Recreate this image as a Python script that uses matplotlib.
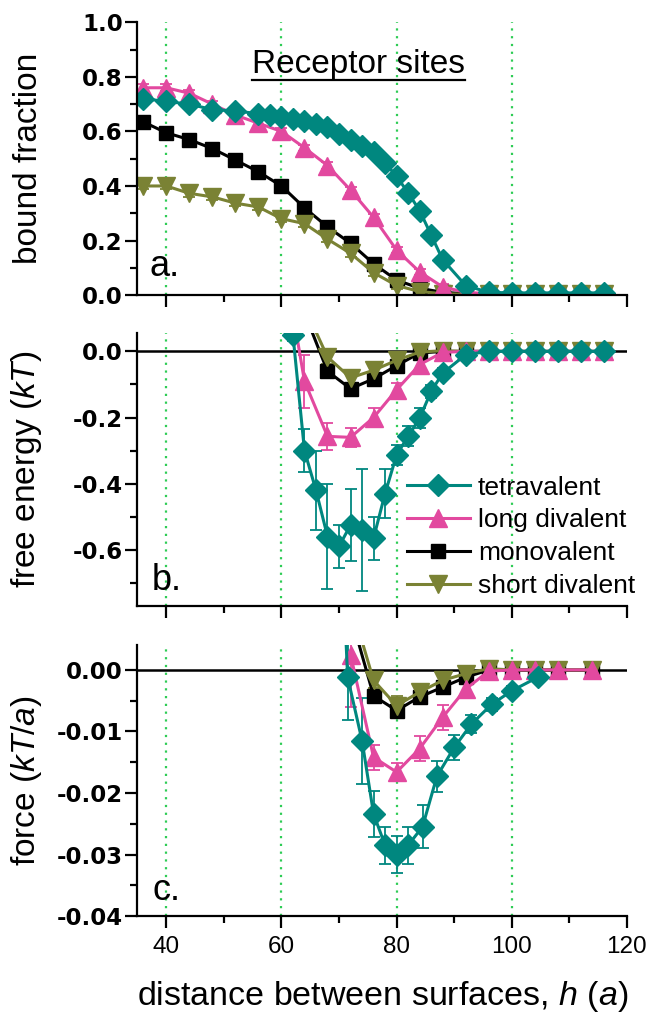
import numpy as np
import matplotlib
matplotlib.use("Agg")
import matplotlib.pyplot as plt
from matplotlib.ticker import MultipleLocator
from matplotlib.lines import Line2D

plt.rcParams['font.family'] = ['Liberation Sans', 'DejaVu Sans']
plt.rcParams['mathtext.fontset'] = 'custom'
plt.rcParams['mathtext.rm'] = 'Liberation Sans'
plt.rcParams['mathtext.it'] = 'Liberation Sans:italic'

# ---------------------------------------------------------------- data
# panel a: bound fraction
xa_tet = [36, 40, 44, 48, 52, 56, 58, 60, 62, 64, 66, 68, 70, 72, 74, 76, 78, 80,
          82, 84, 86, 88, 92, 96, 100, 104, 108, 112, 116]
ya_tet = [0.72, 0.71, 0.70, 0.68, 0.675, 0.665, 0.66, 0.653, 0.645, 0.637, 0.628,
          0.615, 0.59, 0.57, 0.548, 0.525, 0.485, 0.435, 0.375, 0.31, 0.22, 0.13,
          0.035, 0.01, 0.008, 0.008, 0.008, 0.008, 0.008]
xa_div = [36, 40, 44, 48, 52, 56, 60, 64, 68, 72, 76, 80, 84, 88, 92, 96, 100, 104,
          108, 112, 116]
ya_long = [0.76, 0.76, 0.74, 0.70, 0.66, 0.63, 0.60, 0.54, 0.475, 0.385, 0.285,
           0.165, 0.085, 0.03, 0.01, 0.005, 0.003, 0.003, 0.003, 0.003, 0.003]
ya_mono = [0.635, 0.595, 0.57, 0.537, 0.495, 0.452, 0.40, 0.32, 0.25, 0.19, 0.115,
           0.055, 0.025, 0.01, 0.005, 0.003, 0.003, 0.003, 0.003, 0.003, 0.003]
ya_short = [0.40, 0.40, 0.373, 0.36, 0.337, 0.323, 0.28, 0.262, 0.205, 0.153, 0.082,
            0.035, 0.013, 0.005, 0.003, 0.003, 0.003, 0.003, 0.003, 0.003, 0.003]

# panel b: free energy (kT)
xb_tet = [62, 64, 66, 68, 70, 72, 74, 76, 78, 80, 82, 84, 86, 88, 92, 96, 100, 104,
          108, 112, 116]
yb_tet = [0.05, -0.30, -0.42, -0.56, -0.59, -0.525, -0.54, -0.565, -0.43, -0.313,
          -0.257, -0.202, -0.121, -0.066, -0.01, 0.0, 0.0, 0.0, 0.0, 0.0, 0.0]
eb_tet = [0.02, 0.065, 0.12, 0.16, 0.065, 0.11, 0.185, 0.065, 0.075, 0.03, 0.03,
          0.03, 0.02, 0.015, 0.008, 0.005, 0.005, 0.005, 0.005, 0.005, 0.005]
xb_long = [60, 64, 68, 72, 76, 80, 84, 88, 92, 96, 100, 104, 108, 112, 116]
yb_long = [0.32, -0.09, -0.257, -0.26, -0.2, -0.116, -0.04, -0.003, 0.0, 0.0, 0.0,
           0.0, 0.0, 0.0, 0.0]
eb_long = [0.02, 0.08, 0.04, 0.028, 0.03, 0.02, 0.02, 0.01, 0.005, 0.005, 0.005,
           0.005, 0.005, 0.005, 0.005]
xb_mono = [64, 68, 72, 76, 80, 84, 88, 92, 96, 100, 104, 108, 112, 116]
yb_mono = [0.117, -0.06, -0.113, -0.083, -0.043, -0.005, 0.0, 0.0, 0.0, 0.0, 0.0,
           0.0, 0.0, 0.0]
eb_mono = [0.02, 0.02, 0.015, 0.015, 0.01, 0.01, 0.005, 0.005, 0.005, 0.005, 0.005,
           0.005, 0.005, 0.005]
yb_short = [0.135, -0.017, -0.08, -0.057, -0.027, -0.002, 0.002, 0.0, 0.0, 0.0, 0.0,
            0.0, 0.0, 0.0]
eb_short = [0.02, 0.02, 0.015, 0.02, 0.02, 0.01, 0.005, 0.005, 0.005, 0.005, 0.005,
            0.005, 0.005, 0.005]

# panel c: force (kT/a)
xc_tet = [70, 71.5, 74, 76, 78, 80, 82, 84.5, 87, 90, 93, 96.5, 100, 104.5]
yc_tet = [0.03, -0.0012, -0.0115, -0.0234, -0.0285, -0.030, -0.0285, -0.0255,
          -0.0173, -0.0126, -0.0088, -0.0056, -0.0034, -0.0012]
ec_tet = [0.003, 0.007, 0.007, 0.0037, 0.003, 0.003, 0.003, 0.0035, 0.0025, 0.002,
          0.0015, 0.001, 0.0008, 0.0005]
xc_div = [72, 76, 80, 84, 88, 92, 96, 100, 104, 108, 114]
yc_long = [0.0025, -0.0142, -0.0166, -0.0128, -0.0077, -0.0031, -0.0002, 0.0, 0.0,
           0.0, 0.0]
ec_long = [0.0085, 0.002, 0.0015, 0.002, 0.002, 0.001, 0.0008, 0.0005, 0.0005,
           0.0005, 0.0005]
yc_mono = [0.009, -0.0042, -0.0066, -0.0044, -0.0028, -0.0012, 0.0, 0.0, 0.0, 0.0, 0.0]
ec_mono = [0.001, 0.0009, 0.0008, 0.0006, 0.0005, 0.0004, 0.0003, 0.0003, 0.0003,
           0.0003, 0.0003]
yc_short = [0.011, -0.0017, -0.0058, -0.0036, -0.0017, -0.0006, 0.0002, 0.0, 0.0,
            0.0, 0.0]
ec_short = [0.001, 0.0012, 0.0015, 0.0012, 0.001, 0.0008, 0.0005, 0.0004, 0.0004,
            0.0004, 0.0004]

series_names = ['tetravalent', 'long divalent', 'monovalent', 'short divalent']

TEAL = '#00877f'
PINK = '#e2499f'
OLIVE = '#7a8234'
BLACK = '#000000'
GRID = '#2ecc55'

styles = {
    'tetravalent': dict(color=TEAL, marker='D', ms=11.5),
    'long divalent': dict(color=PINK, marker='^', ms=12.5),
    'monovalent': dict(color=BLACK, marker='s', ms=10),
    'short divalent': dict(color=OLIVE, marker='v', ms=12.5),
}


def draw_series(ax, name, x, y, err):
    st = styles[name]
    ax.errorbar(x, y, yerr=err, color=st['color'], ecolor=st['color'],
                marker=st['marker'], ms=st['ms'], lw=2.2, elinewidth=1.3,
                capsize=4.5, capthick=1.3)


def style_axes(ax, ylim, major, minor, fmt, show_xlabels=False, zero_line=False):
    ax.set_xlim(35, 120)
    ax.set_ylim(*ylim)
    for xv in (40, 60, 80, 100):
        ax.axvline(xv, color=GRID, ls=(0, (1, 2.5)), lw=1.6, zorder=0)
    if zero_line:
        ax.axhline(0, color='black', lw=1.8, zorder=1)
    for s in ('top', 'right'):
        ax.spines[s].set_visible(False)
    for s in ('left', 'bottom'):
        ax.spines[s].set_linewidth(1.6)
    ax.xaxis.set_major_locator(MultipleLocator(20))
    ax.xaxis.set_minor_locator(MultipleLocator(10))
    ax.yaxis.set_major_locator(MultipleLocator(major))
    ax.yaxis.set_minor_locator(MultipleLocator(minor))
    ax.tick_params(which='major', direction='out', length=8.5, width=1.6)
    ax.tick_params(which='minor', direction='out', length=5, width=1.6)
    ax.tick_params(axis='y', pad=2)
    ax.yaxis.set_major_formatter(plt.FuncFormatter(lambda v, p: fmt % v if abs(v) > 1e-9 else fmt % 0))
    for lab in ax.get_yticklabels():
        lab.set_fontfamily('DejaVu Sans')
        lab.set_fontweight('bold')
        lab.set_fontsize(16.5)
    if show_xlabels:
        ax.tick_params(axis='x', labelsize=17.5, pad=6)
    else:
        ax.tick_params(axis='x', labelbottom=False)


fig = plt.figure(figsize=(6.5, 10.14), dpi=100)
left, width = 0.2115, 0.753
ax_a = fig.add_axes([left, 0.709, width, 0.269])
ax_b = fig.add_axes([left, 0.4024, width, 0.269])
ax_c = fig.add_axes([left, 0.0966, width, 0.267])

# panel a
ea = 0.012
draw_series(ax_a, 'monovalent', xa_div, ya_mono, ea)
draw_series(ax_a, 'short divalent', xa_div, ya_short, ea)
draw_series(ax_a, 'long divalent', xa_div, ya_long, ea)
draw_series(ax_a, 'tetravalent', xa_tet, ya_tet, ea)
style_axes(ax_a, (0, 1.0), 0.2, 0.1, '%.1f')
ax_a.set_ylabel('bound fraction', fontsize=24)
t = ax_a.text(0.4525, 0.815, 'Receptor sites', transform=ax_a.transAxes,
              ha='center', va='baseline', fontsize=24)
ax_a.text(0.025, 0.07, 'a.', transform=ax_a.transAxes, fontsize=26)

# panel b
draw_series(ax_b, 'monovalent', xb_mono, yb_mono, eb_mono)
draw_series(ax_b, 'short divalent', xb_mono, yb_short, eb_short)
draw_series(ax_b, 'long divalent', xb_long, yb_long, eb_long)
draw_series(ax_b, 'tetravalent', xb_tet, yb_tet, eb_tet)
style_axes(ax_b, (-0.77, 0.055), 0.2, 0.1, '%.1f', zero_line=True)
ax_b.set_ylabel('free energy ($\\mathit{kT}$)', fontsize=24)
ax_b.text(0.03, 0.06, 'b.', transform=ax_b.transAxes, fontsize=26)
handles = [Line2D([], [], color=styles[n]['color'], marker=styles[n]['marker'],
                  ms=styles[n]['ms'], lw=2.2) for n in series_names]
ax_b.legend(handles=handles, labels=series_names,
            loc='lower left', bbox_to_anchor=(0.55, 0.03), frameon=False,
            fontsize=19, handlelength=2.4, handletextpad=0.3, labelspacing=0.33,
            borderpad=0, borderaxespad=0)

# panel c
draw_series(ax_c, 'monovalent', xc_div, yc_mono, ec_mono)
draw_series(ax_c, 'short divalent', xc_div, yc_short, ec_short)
draw_series(ax_c, 'long divalent', xc_div, yc_long, ec_long)
draw_series(ax_c, 'tetravalent', xc_tet, yc_tet, ec_tet)
style_axes(ax_c, (-0.04, 0.004), 0.01, 0.005, '%.2f', show_xlabels=True, zero_line=True)
ax_c.set_ylabel('force ($\\mathit{kT/a}$)', fontsize=24)
ax_c.text(0.03, 0.06, 'c.', transform=ax_c.transAxes, fontsize=26)
ax_c.set_xlabel('distance between surfaces, $\\mathit{h}$ ($\\mathit{a}$)', fontsize=24.5,
                labelpad=15)

# align y labels (right edge of the rotated text near x = 45 px)
for ax in (ax_a, ax_b, ax_c):
    ax.yaxis.set_label_coords(-0.19, 0.5)

# underline of "Receptor sites"
fig.canvas.draw()
bb = t.get_window_extent().transformed(ax_a.transAxes.inverted())
ax_a.plot([bb.x0, bb.x1], [0.79, 0.79], transform=ax_a.transAxes, color='black',
          lw=1.6, clip_on=False)

fig.savefig('out.png', dpi=100)
